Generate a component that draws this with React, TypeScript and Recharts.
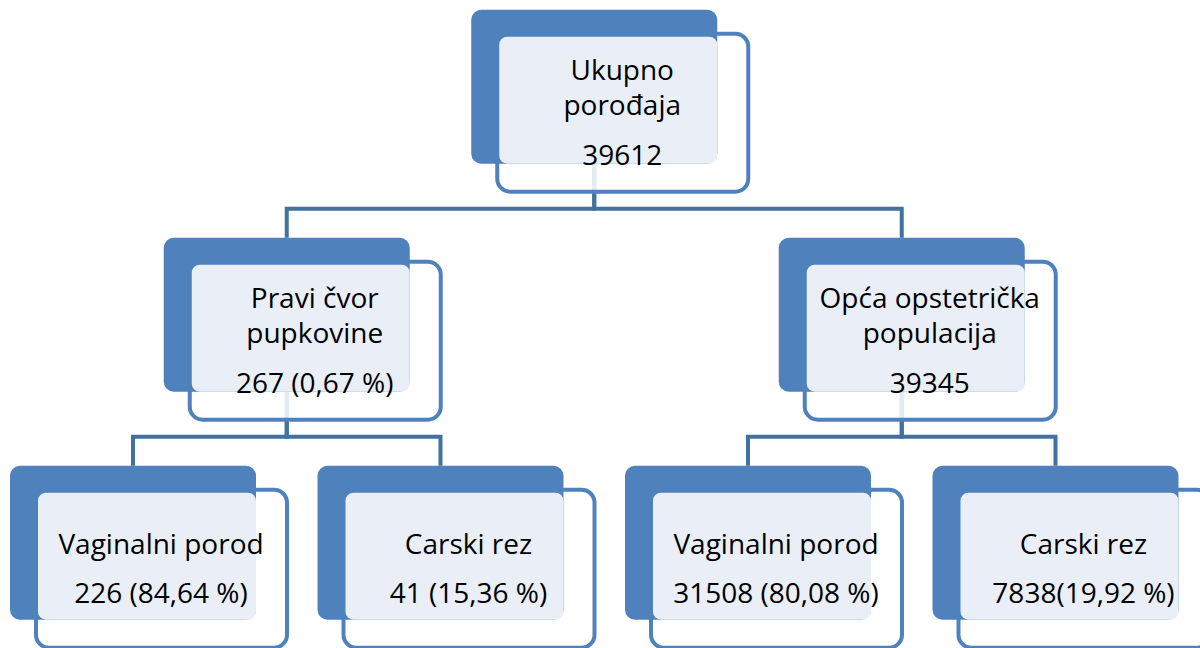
import { ScatterChart, Scatter, XAxis, YAxis } from "recharts"

// tree nodes, parent index -1 = root
const nodeTitles = [
  ["Ukupno", "porođaja"],
  ["Pravi čvor", "pupkovine"],
  ["Opća opstetrička", "populacija"],
  ["Vaginalni porod"],
  ["Carski rez"],
  ["Vaginalni porod"],
  ["Carski rez"],
]
const nodeValues = [
  "39612",
  "267 (0,67 %)",
  "39345",
  "226 (84,64 %)",
  "41 (15,36 %)",
  "31508 (80,08 %)",
  "7838(19,92 %)",
]
const nodeParents = [-1, 0, 0, 1, 1, 2, 2]
const nodeLevels = [0, 1, 1, 2, 2, 2, 2]

const W = 1200
const H = 648
const MARGIN = { top: 86.7, right: 144.5, bottom: 105.3, left: 133 }
const DARK = "#4F81BD"
const LINE = "#41719C"
const PANEL = "#EAEFF7"
const FONT = "'Open Sans', sans-serif"

const PX_PER_LEVEL = (H - MARGIN.top - MARGIN.bottom) / 2
const HALF_BOX = 77 / PX_PER_LEVEL
const FORK = 0.535

// simple tidy layout: leaves left to right, parents centred over children
function layoutX() {
  const xs: number[] = new Array(nodeTitles.length).fill(0)
  let leaf = 0
  const visit = (i: number) => {
    const kids = nodeParents.map((p, k) => (p === i ? k : -1)).filter(k => k >= 0)
    if (kids.length === 0) {
      xs[i] = leaf++
      return
    }
    kids.forEach(visit)
    xs[i] = (xs[kids[0]] + xs[kids[kids.length - 1]]) / 2
  }
  visit(0)
  return xs
}

const xs = layoutX()
const nodes = nodeTitles.map((t, i) => ({ x: xs[i], y: nodeLevels[i], idx: i }))

const edges = nodeParents
  .map((p, i) => ({ p, i }))
  .filter(e => e.p >= 0)
  .map(({ p, i }) => [
    { x: xs[p], y: nodeLevels[p] + HALF_BOX },
    { x: xs[p], y: nodeLevels[p] + FORK },
    { x: xs[i], y: nodeLevels[p] + FORK },
    { x: xs[i], y: nodeLevels[i] - HALF_BOX },
  ])

function NodeShape(props: any) {
  const { cx, cy, payload } = props
  const i = payload.idx
  const title = nodeTitles[i]
  const tx = cx + 28
  const lines =
    title.length === 2
      ? [
          { t: title[0], dy: -6.5 },
          { t: title[1], dy: 28.5 },
          { t: nodeValues[i], dy: 78 },
        ]
      : [
          { t: title[0], dy: 11.5 },
          { t: nodeValues[i], dy: 60.5 },
        ]
  return (
    <g>
      <rect x={cx - 97} y={cy - 53} width={251} height={158} rx={13} fill="#fff" fillOpacity={0.86} stroke={DARK} strokeWidth={4} />
      <rect x={cx - 123} y={cy - 77} width={246} height={154} rx={10} fill={DARK} />
      <rect x={cx - 95} y={cy - 50} width={218} height={127} rx={8} fill={PANEL} />
      {lines.map((l, k) => (
        <text key={k} x={tx} y={cy + l.dy} textAnchor="middle" fontFamily={FONT} fontSize={28} fill="#000">
          {l.t}
        </text>
      ))}
    </g>
  )
}

export default function App() {
  return (
    <div style={{ position: "absolute", left: 0, top: 0, width: W, height: H, background: "#fff" }}>
      <ScatterChart width={W} height={H} margin={MARGIN}>
        <XAxis type="number" dataKey="x" domain={[0, 3]} hide />
        <YAxis type="number" dataKey="y" domain={[0, 2]} reversed hide />
        {edges.map((e, k) => (
          <Scatter
            key={"e" + k}
            data={e}
            line={{ stroke: LINE, strokeWidth: 4, strokeLinejoin: "miter" }}
            shape={() => <g />}
            isAnimationActive={false}
          />
        ))}
        <Scatter data={nodes} shape={NodeShape} isAnimationActive={false} />
      </ScatterChart>
    </div>
  )
}
